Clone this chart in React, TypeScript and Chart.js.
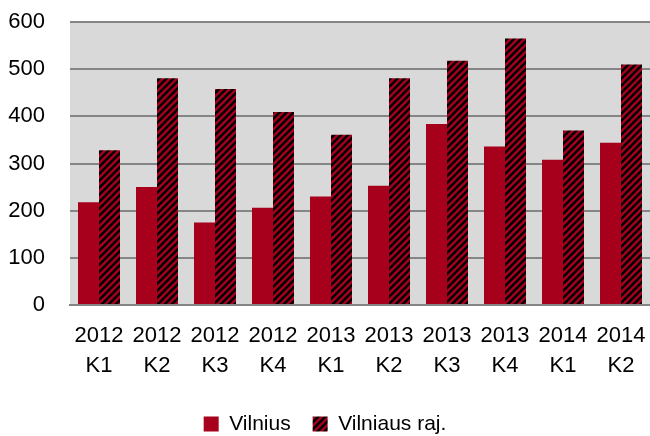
import React, { useEffect, useRef } from "react";
import { Chart, registerables } from "chart.js";

Chart.register(...registerables);

const categories: string[][] = [
  ["2012", "K1"], ["2012", "K2"], ["2012", "K3"], ["2012", "K4"],
  ["2013", "K1"], ["2013", "K2"], ["2013", "K3"], ["2013", "K4"],
  ["2014", "K1"], ["2014", "K2"],
];
const vilnius: number[] = [218, 250, 175, 206, 230, 253, 384, 336, 308, 344];
const vilniausRaj: number[] = [328, 481, 458, 409, 361, 481, 518, 565, 370, 510];
const yTicks = { min: 0, max: 600, step: 100 };

const RED = "#A6001C";
const FONT = "'Liberation Sans', Arial, sans-serif";

function makePattern(): CanvasPattern | string {
  const s = 7;
  const c = document.createElement("canvas");
  c.width = s;
  c.height = s;
  const ctx = c.getContext("2d");
  if (!ctx) return RED;
  ctx.fillStyle = RED;
  ctx.fillRect(0, 0, s, s);
  ctx.strokeStyle = "#000000";
  ctx.lineWidth = s / (2 * Math.SQRT2);
  ctx.lineCap = "square";
  for (const off of [-s, 0, s]) {
    ctx.beginPath();
    ctx.moveTo(off, s);
    ctx.lineTo(off + s, 0);
    ctx.stroke();
  }
  const p = ctx.createPattern(c, "repeat");
  return p || RED;
}

const plotBg = {
  id: "plotBg",
  beforeDraw(chart: any) {
    const { ctx, chartArea } = chart;
    if (!chartArea) return;
    ctx.save();
    ctx.fillStyle = "#D9D9D9";
    ctx.fillRect(chartArea.left, chartArea.top, chartArea.right - chartArea.left, chartArea.bottom - chartArea.top);
    ctx.restore();
  },
};

export default function App() {
  const ref = useRef<HTMLCanvasElement | null>(null);
  useEffect(() => {
    document.body.style.margin = "0";
    if (!ref.current) return;
    const pattern = makePattern();
    const chart = new Chart(ref.current, {
      type: "bar",
      data: {
        labels: categories,
        datasets: [
          {
            label: "Vilnius",
            data: vilnius,
            backgroundColor: RED,
            borderWidth: 0,
            categoryPercentage: 0.724,
            barPercentage: 1,
          },
          {
            label: "Vilniaus raj.",
            data: vilniausRaj,
            backgroundColor: pattern as any,
            borderWidth: 0,
            categoryPercentage: 0.724,
            barPercentage: 1,
          },
        ],
      },
      options: {
        animation: false,
        responsive: false,
        maintainAspectRatio: false,
        layout: { padding: { top: 22, right: 0, left: 0, bottom: 0 } },
        plugins: {
          legend: {
            position: "bottom",
            maxHeight: 44.5,
            labels: {
              boxWidth: 15,
              boxHeight: 15,
              padding: 22,
              color: "#000",
              font: { family: FONT, size: 21 },
            },
          },
          tooltip: { enabled: false },
        },
        scales: {
          x: {
            grid: { display: false, drawTicks: false },
            border: { display: true, color: "#858585", width: 2 },
            ticks: {
              color: "#000",
              padding: 16,
              maxRotation: 0,
              autoSkip: false,
              font: { family: FONT, size: 22, lineHeight: 1.36 },
            },
            afterFit(scale: any) {
              scale.height = 86.5;
              scale.paddingLeft = 0;
              scale.paddingRight = 0;
            },
          },
          y: {
            min: yTicks.min,
            max: yTicks.max,
            grid: { color: "#858585", lineWidth: 2, drawTicks: false },
            border: { display: false },
            ticks: {
              stepSize: yTicks.step,
              color: "#000",
              padding: 25,
              font: { family: FONT, size: 22 },
            },
            afterFit(scale: any) {
              scale.width = 70;
              scale.paddingTop = 0;
              scale.paddingBottom = 0;
            },
          },
        },
      },
      plugins: [plotBg],
    });
    return () => chart.destroy();
  }, []);
  return <canvas ref={ref} width={650} height={436} style={{ display: "block" }} />;
}
